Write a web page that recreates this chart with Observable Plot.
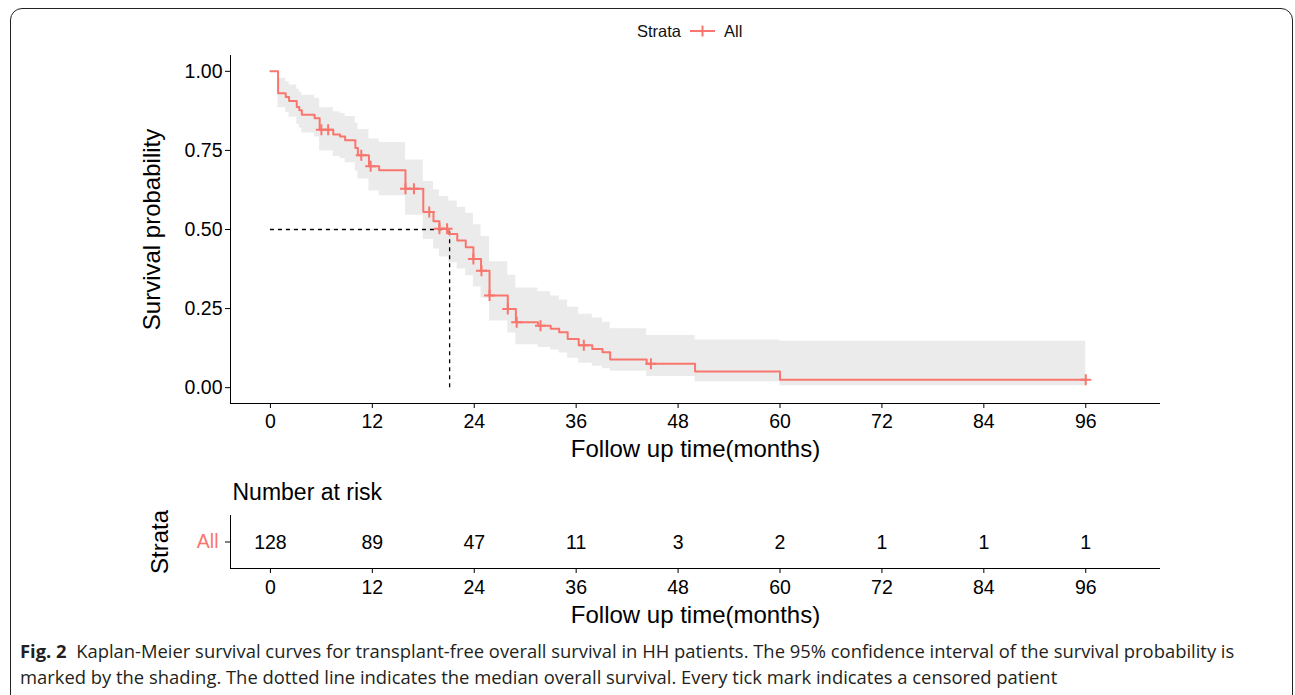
<!DOCTYPE html>
<html><head><meta charset="utf-8">
<script src="https://cdn.jsdelivr.net/npm/d3@7"></script>
<script src="https://cdn.jsdelivr.net/npm/@observablehq/plot@0.6"></script>
<style>
body{margin:0;background:#fff;width:1295px;height:695px;overflow:hidden;position:relative;font-family:"Liberation Sans",Arial,sans-serif;}
#frame{position:absolute;left:10px;top:8px;width:1283px;height:740px;border:1.3px solid #222;border-radius:12px;box-sizing:border-box;}
#main{position:absolute;left:0;top:0}
#risk{position:absolute;left:0;top:470px}
#legend{position:absolute;top:20px;left:637px;height:22px;font-size:16.5px;display:flex;align-items:center;color:#111}
#caption{position:absolute;left:20px;top:638px;font-family:"Open Sans",sans-serif;font-size:18.4px;line-height:26px;color:#231f20;white-space:nowrap}
</style></head>
<body>
<div id="frame"></div>
<div id="main"></div>
<div id="risk"></div>
<div id="legend"><span>Strata</span><svg width="43" height="22" style="display:block"><line x1="9" x2="34" y1="11" y2="11" stroke="#F8766D" stroke-width="2"/><line x1="21.5" x2="21.5" y1="5.5" y2="16.5" stroke="#F8766D" stroke-width="2"/></svg><span>All</span></div>
<div id="caption"><div id="cap1"><b>Fig. 2</b>&nbsp; Kaplan-Meier survival curves for transplant-free overall survival in HH patients. The 95% confidence interval of the survival probability is</div><div id="cap2">marked by the shading. The dotted line indicates the median overall survival. Every tick mark indicates a censored patient</div></div>
<script>
// ---- data ----
const strataName = "All";
const stepTime = [0, 0.9, 1.8, 2.2, 3.1, 3.4, 3.7, 5.2, 5.8, 7.4, 8.2, 8.8, 10.0, 10.3, 11.6, 12.8, 15.9, 18.0, 19.2, 19.9, 21.0, 22.0, 23.0, 23.9, 24.8, 25.8, 27.95, 28.9, 31.5, 33.0, 34.0, 35.0, 36.3, 37.9, 39.1, 40.0, 44.3, 50.0, 60.0, 96.0];
const survProb = [1, .931, .919, .906, .887, .877, .863, .852, .815, .800, .794, .782, .758, .735, .700, .687, .629, .555, .526, .502, .486, .465, .444, .407, .370, .291, .249, .207, .196, .186, .175, .154, .134, .122, .112, .089, .076, .051, .025, .025];
const lowerCI = [1, .885, .870, .855, .833, .821, .805, .792, .748, .731, .724, .711, .685, .660, .622, .607, .545, .468, .438, .413, .396, .375, .354, .318, .283, .211, .173, .136, .127, .119, .110, .093, .077, .068, .060, .052, .035, .019, .006, .006];
const upperCI = [1, .978, .967, .957, .943, .935, .924, .915, .885, .872, .867, .857, .836, .816, .786, .775, .720, .652, .626, .604, .590, .570, .551, .515, .478, .398, .355, .315, .303, .290, .277, .254, .232, .220, .207, .186, .165, .151, .147, .147];
const censorTime = [6.0, 6.8, 10.7, 11.8, 15.9, 16.9, 18.7, 19.9, 20.8, 23.9, 24.85, 25.8, 27.95, 29.0, 31.8, 36.9, 44.8, 96];
const medianTime = 21.1;
const medianProb = 0.5;
const riskTime = [0, 12, 24, 36, 48, 60, 72, 84, 96];
const riskCount = [128, 89, 47, 11, 3, 2, 1, 1, 1];
const xTicks = [0, 12, 24, 36, 48, 60, 72, 84, 96];
const yTicks = [0, 0.25, 0.5, 0.75, 1];
const xTitle = "Follow up time(months)";
const yTitle = "Survival probability";

// ---- build tables ----
const curve = stepTime.map((t, i) => ({t, s: survProb[i], lo: lowerCI[i], up: upperCI[i]}));
const survAt = t => { let v = survProb[0]; stepTime.forEach((st, i) => { if (st <= t) v = survProb[i]; }); return v; };
const censors = censorTime.map(t => ({t, s: survAt(t)}));
const risk = riskTime.map((t, i) => ({t, n: riskCount[i]}));
const plusSymbol = {draw(ctx) { const r = 5.5; ctx.moveTo(-r, 0); ctx.lineTo(r, 0); ctx.moveTo(0, -r); ctx.lineTo(0, r); }};
const xDomain = [-4.7, 104.8];
const yDomain = [-0.05, 1.05];
const col = "#F8766D";
const tickFs = 19.5, titleFs = 24;
const style = {fontFamily: '"Liberation Sans", Arial, sans-serif', fontSize: "19px", color: "black", background: "transparent", overflow: "visible"};

const mainPlot = Plot.plot({
  width: 1295, height: 470, marginLeft: 230, marginRight: 135, marginTop: 55, marginBottom: 67,
  x: {domain: xDomain}, y: {domain: yDomain}, style,
  marks: [
    Plot.areaY(curve, {x: "t", y1: "lo", y2: "up", curve: "step-after", fill: "#ebebeb"}),
    Plot.ruleY([{y: medianProb, x1: 0, x2: medianTime}], {y: "y", x1: "x1", x2: "x2", stroke: "black", strokeWidth: 1.3, strokeDasharray: "4,4"}),
    Plot.ruleX([{x: medianTime, y1: 0, y2: medianProb}], {x: "x", y1: "y1", y2: "y2", stroke: "black", strokeWidth: 1.3, strokeDasharray: "4,4"}),
    Plot.line(curve, {x: "t", y: "s", curve: "step-after", stroke: col, strokeWidth: 2}),
    Plot.dot(censors, {x: "t", y: "s", symbol: plusSymbol, stroke: col, strokeWidth: 2, fill: "none"}),
    Plot.ruleX([xDomain[0]], {stroke: "black"}),
    Plot.ruleY([yDomain[0]], {stroke: "black"}),
    Plot.axisX({ticks: xTicks, tickSize: 5, tickPadding: 6, fontSize: tickFs, label: null}),
    Plot.axisY({ticks: yTicks, tickSize: 5, tickPadding: 3, fontSize: tickFs, tickFormat: d3.format(".2f"), label: null}),
    Plot.text([xTitle], {text: d => d, frameAnchor: "bottom", lineAnchor: "middle", dy: 46, fontSize: titleFs}),
    Plot.text([yTitle], {text: d => d, frameAnchor: "left", textAnchor: "middle", lineAnchor: "middle", dx: -78, rotate: -90, fontSize: titleFs})
  ]
});
document.getElementById("main").append(mainPlot);

const riskPlot = Plot.plot({
  width: 1295, height: 165, marginLeft: 230, marginRight: 135, marginTop: 45, marginBottom: 67,
  x: {domain: xDomain}, y: {domain: [0, 1]}, style,
  marks: [
    Plot.ruleX([xDomain[0]], {stroke: "black"}),
    Plot.ruleY([0], {stroke: "black"}),
    Plot.text(risk, {x: "t", y: () => 0.5, text: "n", fontSize: tickFs, dy: 1}),
    Plot.axisX({ticks: xTicks, tickSize: 5, tickPadding: 7, fontSize: tickFs, label: null}),
    Plot.axisY({ticks: [0.5], tickFormat: () => strataName, tickSize: 5, tickPadding: 7, fontSize: tickFs, fill: col, label: null}),
    Plot.text(["Number at risk"], {text: d => d, frameAnchor: "top-left", textAnchor: "start", lineAnchor: "middle", dy: -23, dx: 2, fontSize: 23}),
    Plot.text(["Strata"], {text: d => d, frameAnchor: "left", textAnchor: "middle", lineAnchor: "middle", dx: -70, rotate: -90, fontSize: titleFs}),
    Plot.text([xTitle], {text: d => d, frameAnchor: "bottom", lineAnchor: "middle", dy: 47, fontSize: titleFs})
  ]
});
document.getElementById("risk").append(riskPlot);
</script>
</body></html>
